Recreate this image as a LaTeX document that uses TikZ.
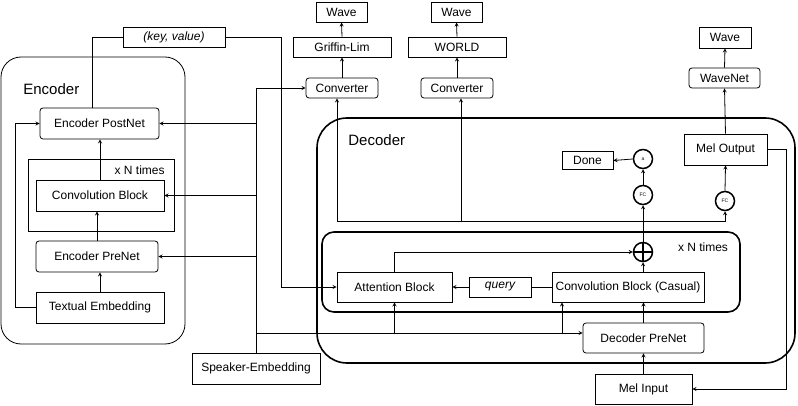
\documentclass[tikz,border=0pt]{standalone}
\usepackage{fontspec}
\setmainfont{Liberation Sans}
\tikzset{
  box/.style={draw,line width=0.8pt,inner sep=0pt,font=\fontsize{12}{14}\selectfont},
  rbox/.style={box,rounded corners=3pt},
  circ/.style={draw,circle,line width=1.5pt,inner sep=0pt,minimum size=19pt,font=\fontsize{5}{6}\selectfont},
  frame/.style={draw,line width=1.6pt},
  lbl/.style={inner sep=0pt,font=\fontsize{12}{14}\selectfont},
}
\begin{document}
\begin{tikzpicture}[x=1pt,y=-1pt,line width=0.8pt]
    \useasboundingbox (0,0) rectangle (798,406);
    % encoder
    \draw[rounded corners=20pt] (1,57) rectangle (185,344);
    \node[lbl,font=\fontsize{15}{17}\selectfont,anchor=west] (enc) at (23,89) {Encoder};
    \draw (28,159) rectangle (174,231);
    \node[lbl,anchor=east] (encn) at (165,170) {x N times};
    \node[rbox,minimum width=119pt,minimum height=31pt] (postnet) at (99.5,123.5) {Encoder PostNet};
    \node[box,minimum width=128pt,minimum height=31pt] (econv) at (100,195.5) {Convolution Block};
    \node[rbox,minimum width=122pt,minimum height=31pt] (eprenet) at (97,256.5) {Encoder PreNet};
    \node[box,minimum width=128pt,minimum height=31pt] (textemb) at (100,307.5) {Textual Embedding};
    \node[box,minimum width=102pt,minimum height=20pt] (kv) at (174,37) {\itshape (key, value)};
    \draw[-stealth] (textemb.north) -- (textemb.north |- eprenet.south);
    \draw[-stealth] (eprenet.north) -- (eprenet.north |- econv.south);
    \draw[-stealth] (econv.north) -- (econv.north |- postnet.south);
    \draw[-stealth] (textemb.west) -- ++(-20,0) |- (postnet.west);
    \draw ([xshift=-7.5pt]postnet.north) |- (kv.west);

    % decoder
    \draw[frame,rounded corners=30pt] (317,118) rectangle (795,363);
    \node[lbl,font=\fontsize{15}{17}\selectfont,anchor=west] (dec) at (348,140) {Decoder};
    \draw[frame,rounded corners=12pt] (322,232) rectangle (740,312);
    \node[lbl] (decn) at (703,247) {x N times};
    \node[rbox,minimum width=72pt,minimum height=20pt] (conv1) at (342,88) {Converter};
    \node[box,minimum width=98pt,minimum height=20pt] (gl) at (342,47) {Griffin-Lim};
    \node[box,minimum width=51pt,minimum height=20pt] (wave1) at (341.5,12) {Wave};
    \node[rbox,minimum width=72pt,minimum height=20pt] (conv2) at (457,88) {Converter};
    \node[box,minimum width=98pt,minimum height=20pt] (world) at (457,47) {WORLD};
    \node[box,minimum width=51pt,minimum height=20pt] (wave2) at (456.5,12) {Wave};
    \node[box,minimum width=52pt,minimum height=21pt] (wave3) at (725,37.5) {Wave};
    \node[rbox,minimum width=71pt,minimum height=20pt] (wavenet) at (724.5,78) {WaveNet};
    \node[box,minimum width=83pt,minimum height=31pt] (melout) at (725.5,149.5) {Mel Output};
    \node[circ] (fc2) at (725,201) {FC};
    \node[circ] (fc1) at (643,195) {FC};
    \node[circ] (acirc) at (643,159) {a};
    \node[box,minimum width=51pt,minimum height=18pt] (done) at (587.5,160.5) {Done};
    \node[circ] (sum) at (643,252) {};
    \draw[line width=1.5pt] (sum.north) -- (sum.south) (sum.west) -- (sum.east);
    \node[box,minimum width=115pt,minimum height=30pt] (att) at (394.5,287) {Attention Block};
    \node[box,minimum width=62pt,minimum height=20pt] (query) at (500,287) {\itshape query};
    \node[box,minimum width=152pt,minimum height=30pt] (cconv) at (628,287) {Convolution Block (Casual)};
    \node[rbox,minimum width=121pt,minimum height=30pt] (dprenet) at (643.5,338) {Decoder PreNet};
    \node[box,minimum width=97pt,minimum height=30pt] (melin) at (643.5,389) {Mel Input};
    \node[box,minimum width=128pt,minimum height=31pt] (spk) at (256,368.5) {Speaker-Embedding};

    \draw[-stealth] (conv1.north) -- (gl.south);
    \draw[-stealth] (gl.north) -- (wave1.south);
    \draw[-stealth] (conv2.north) -- (world.south);
    \draw[-stealth] (world.north) -- (wave2.south);
    \draw[-stealth] (wavenet.north) -- (wave3.south);
    \draw[-stealth] (melout.north) -- (wavenet.south);
    \draw[-stealth] (fc2.north) -- (melout.south);
    \draw[-stealth] (fc1.north) -- (acirc.south);
    \draw[-stealth] (acirc.west) -- (done.east);
    \coordinate (tap) at (643,221);
    \draw[-stealth] (sum.north) -- (fc1.south);
    \draw[-stealth] (tap) -| (fc2.south);
    \draw[-stealth] (tap) -| ([xshift=-5pt]conv1.south);
    \draw[-stealth] ([xshift=4pt]conv2.south |- tap) -- ([xshift=4pt]conv2.south);
    \draw[-stealth] (melout.east) -- ++(19,0) |- (melin.east);
    \draw[-stealth] (melin.north) -- (dprenet.south);
    \draw[-stealth] (dprenet.north) -- (dprenet.north |- cconv.south);
    \draw[-stealth] (sum.south |- cconv.north) -- (sum.south);
    \draw[-stealth] (att.north) |- (sum.west);
    \draw (cconv.west) -- (query.east);
    \draw[-stealth] (query.west) -- (att.east);
    \draw[-stealth] (kv.east) -- ++(56,0) |- (att.west);

    % speaker embedding
    \coordinate (sp) at (256,333);
    \draw[-stealth] (spk.north) |- (conv1.west);
    \draw[-stealth] (spk.north |- postnet.east) -- (postnet.east);
    \draw[-stealth] (spk.north |- econv.east) -- (econv.east);
    \draw[-stealth] (spk.north |- eprenet.east) -- (eprenet.east);
    \draw[-stealth] (sp) -- (sp -| dprenet.west);
    \draw[-stealth] (att.south |- sp) -- (att.south);
    \draw[-stealth] ([xshift=-66pt]cconv.south |- sp) -- ([xshift=-66pt]cconv.south);
\end{tikzpicture}
\end{document}
